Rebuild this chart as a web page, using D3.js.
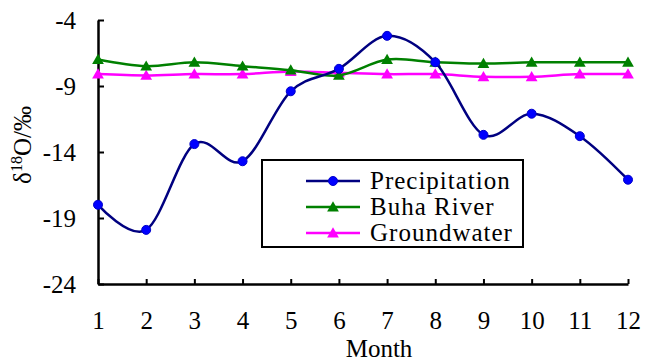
<!DOCTYPE html>
<html>
<head>
<meta charset="utf-8">
<script src="https://cdn.jsdelivr.net/npm/d3@7"></script>
<style>
  body { margin: 0; background: #fff; }
  svg text { font-family: 'Liberation Serif', 'Times New Roman', serif; }
</style>
</head>
<body>
<div id="chart"></div>
<script>
// data
// -----------------------------------------------
const months = [1, 2, 3, 4, 5, 6, 7, 8, 9, 10, 11, 12];
const precipitation = [-18.0, -19.9, -13.4, -14.7, -9.4, -7.7, -5.2, -7.2, -12.7, -11.1, -12.8, -16.1];
const buhaRiver = [-7.0, -7.5, -7.2, -7.5, -7.8, -8.2, -7.0, -7.2, -7.3, -7.2, -7.2, -7.2];
const groundwater = [-8.1, -8.2, -8.1, -8.1, -7.9, -8.0, -8.1, -8.1, -8.3, -8.3, -8.1, -8.1];
const yTicks = [-4, -9, -14, -19, -24];
const seriesNames = ['Precipitation', 'Buha River', 'Groundwater'];

// -----------------------------------------------
let width = 645,
  height = 363;
let margin = { top: 20, right: 17, bottom: 79, left: 98 };
const serif = 'Liberation Serif';

const svg = d3
  .select('#chart')
  .append('svg')
  .attr('width', width)
  .attr('height', height);

let x = d3
  .scaleLinear()
  .domain([1, 12])
  .range([margin.left, width - margin.right]);

let y = d3
  .scaleLinear()
  .domain([-24, -4])
  .range([height - margin.bottom, margin.top]);

// plain hyphen minus, like the original
let fmt = (d) => String(d);

let styleAxis = (g) => {
  g.attr('font-family', serif).attr('font-size', 25);
  g.select('.domain').attr('stroke-width', 2.5);
  g.selectAll('.tick line').attr('stroke-width', 2);
  g.selectAll('text').attr('fill', '#000');
};

// axes, ticks inside like the excel original
svg
  .append('g')
  .attr('transform', `translate(${margin.left},0)`)
  .call(d3.axisLeft(y).tickValues(yTicks).tickFormat(fmt).tickSizeInner(-6).tickSizeOuter(0).tickPadding(22))
  .call(styleAxis);

svg
  .append('g')
  .attr('transform', `translate(0,${height - margin.bottom})`)
  .call(d3.axisBottom(x).tickValues(months).tickFormat(fmt).tickSizeInner(-5).tickSizeOuter(0).tickPadding(27))
  .call(styleAxis);

// axis titles
svg
  .append('text')
  .attr('x', (margin.left + width - margin.right) / 2 + 16)
  .attr('y', 357)
  .attr('text-anchor', 'middle')
  .attr('font-family', serif)
  .attr('font-size', 25)
  .text('Month');

const yTitle = svg
  .append('text')
  .attr('transform', 'translate(31,145) rotate(-90)')
  .attr('text-anchor', 'middle')
  .attr('font-family', serif)
  .attr('font-size', 25);
yTitle.append('tspan').text('δ');
yTitle.append('tspan').attr('font-size', 16).attr('dy', -9).text('18');
yTitle.append('tspan').attr('dy', 9).text('O/‰');

// -----------------------------------------------
let line = d3
  .line()
  .x((d) => x(d[0]))
  .y((d) => y(d[1]))
  .curve(d3.curveCardinal.tension(0));

let triangle = d3.symbol().type(d3.symbolTriangle).size(60);

let series = [
  { name: seriesNames[0], values: precipitation, line: '#000080', fill: '#0000ff', marker: 'circle' },
  { name: seriesNames[1], values: buhaRiver, line: '#008000', fill: '#008000', marker: 'triangle' },
  { name: seriesNames[2], values: groundwater, line: '#ff00ff', fill: '#ff00ff', marker: 'triangle' },
];

let drawMarker = (g, s, cx, cy) => {
  if (s.marker === 'circle') {
    g.append('circle')
      .attr('cx', cx)
      .attr('cy', cy)
      .attr('r', 4.5)
      .attr('fill', s.fill)
      .attr('stroke', '#0000cc')
      .attr('stroke-width', 1);
  } else {
    g.append('path')
      .attr('d', triangle)
      .attr('transform', `translate(${cx},${cy + 1})`)
      .attr('fill', s.fill);
  }
};

// draw back to front: groundwater, river, precipitation
series
  .slice()
  .reverse()
  .forEach((s) => {
    const pts = months.map((m, i) => [m, s.values[i]]);
    const g = svg.append('g');
    g.append('path')
      .attr('d', line(pts))
      .attr('fill', 'none')
      .attr('stroke', s.line)
      .attr('stroke-width', 2.5);
    pts.forEach((p) => drawMarker(g, s, x(p[0]), y(p[1])));
  });

// -----------------------------------------------
// legend
const legend = svg.append('g').attr('transform', 'translate(262,160)');
legend
  .append('rect')
  .attr('width', 261)
  .attr('height', 87)
  .attr('fill', '#fff')
  .attr('stroke', '#000')
  .attr('stroke-width', 2);

series.forEach((s, i) => {
  const cy = 21 + i * 26;
  const row = legend.append('g');
  row
    .append('line')
    .attr('x1', 44)
    .attr('x2', 98)
    .attr('y1', cy)
    .attr('y2', cy)
    .attr('stroke', s.line)
    .attr('stroke-width', 2.5);
  drawMarker(row, s, 71, cy);
  row
    .append('text')
    .attr('x', 108)
    .attr('y', cy + 8)
    .attr('font-family', serif)
    .attr('font-size', 25)
    .attr('letter-spacing', 1)
    .text(s.name);
});
</script>
</body>
</html>
